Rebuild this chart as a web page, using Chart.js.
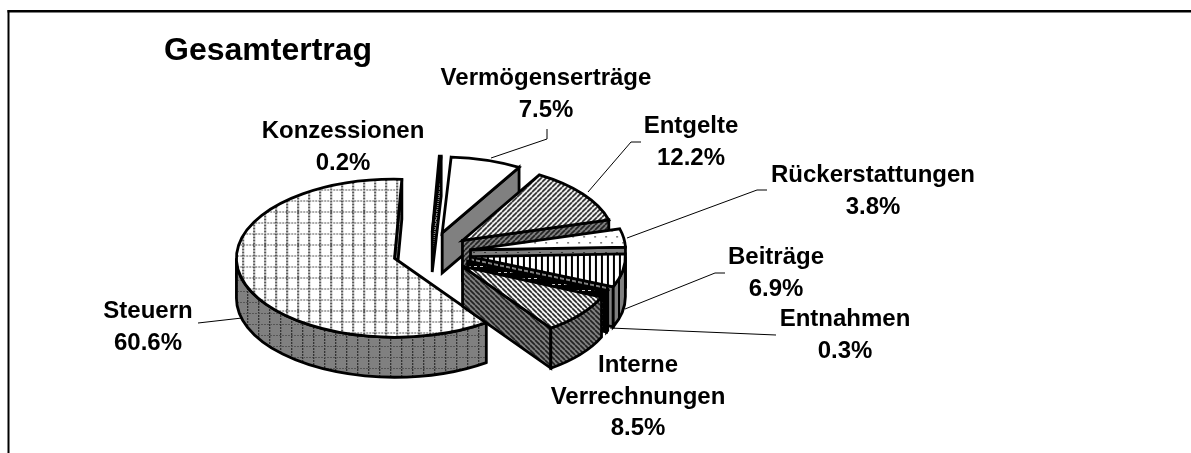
<!DOCTYPE html>
<html><head><meta charset="utf-8">
<style>html,body{margin:0;padding:0;background:#fff}canvas{display:block}</style>
<script src="https://cdn.jsdelivr.net/npm/chart.js@4"></script>
</head><body>
<div style="width:1191px;height:453px"><canvas id="c" width="1191" height="453"></canvas></div>
<script>
const chartTitle = 'Gesamtertrag';
const categories = ['Steuern','Konzessionen','Vermögenserträge','Entgelte','Rückerstattungen','Beiträge','Entnahmen','Interne Verrechnungen'];
const shares = [60.6,0.2,7.5,12.2,3.8,6.9,0.3,8.5];
const explosion = [37,42,42,41,41,41,41,42];
const radiusScale = [1.04,1,1,1,1.02,1.02,1,1];
const labelLines = [['Steuern'],['Konzessionen'],['Vermögenserträge'],['Entgelte'],['Rückerstattungen'],['Beiträge'],['Entnahmen'],['Interne','Verrechnungen']];
const labelCenterX = [148,343,546,691,873,776,845,638];
const labelBaseY = [318,138,85,133,182,264,326,372];
const leaders = [
  [[198,323],[242,318]],
  [],
  [[547,129],[547,139],[491,158]],
  [[641,142],[631,142],[588,192]],
  [[767,190],[757,190],[627,238]],
  [[725,273],[715,273],[625,309]],
  [[776,335],[610,328]],
  []
];
const TILT = 0.5, DEPTH = 40, CX = 430, CY = 253, RADIUS = 152, GREY = '#808080';

function tile(w,h,bg,paint){
  const c=document.createElement('canvas');c.width=w;c.height=h;
  const g=c.getContext('2d');g.fillStyle=bg;g.fillRect(0,0,w,h);paint(g);
  return document.createElement('canvas').getContext('2d').createPattern(c,'repeat');
}
const paints = [
  g=>{for(let i=0;i<33;i+=3){for(let k=0;k<33;k+=11){g.fillStyle='#333';g.fillRect(k+5,i,1,2);g.fillStyle='#666';g.fillRect(k+6,i,1,2);g.fillStyle='#555';g.fillRect(i,k+5,2,1);}}},
  g=>{g.fillStyle='#000';g.fillRect(0,0,3,1);g.fillRect(1,2,3,1);},
  g=>{},
  g=>{g.strokeStyle='#222';g.lineWidth=1.7;for(let i=-5;i<=10;i+=5){g.beginPath();g.moveTo(i,5);g.lineTo(i+5,0);g.stroke();}},
  g=>{g.fillStyle='#333';g.fillRect(0,0,2,1);g.fillRect(5,6,2,1);},
  g=>{g.fillStyle='#000';g.fillRect(0,0,2,6);},
  g=>{g.fillStyle='#000';g.fillRect(0,0,6,6);g.fillStyle='#ccc';g.fillRect(0,2,3,1);},
  g=>{g.strokeStyle='#222';g.lineWidth=1.7;for(let i=-5;i<=10;i+=5){g.beginPath();g.moveTo(i,0);g.lineTo(i+5,5);g.stroke();}}
];
const tileSize = [[33,33],[4,4],[4,4],[5,5],[11,12],[6,6],[6,6],[5,5]];
const topFill = paints.map((p,i)=>tile(tileSize[i][0],tileSize[i][1],'#fff',p));
const wallFill = paints.map((p,i)=>tile(tileSize[i][0],tileSize[i][1],i===6?'#000':GREY,p));
// the tops are painted through a squashed context, so undo the squash for the pattern
topFill.forEach((p,i)=>p.setTransform(new DOMMatrix().scale(1/radiusScale[i],1/(TILT*radiusScale[i]))));

function outline(ctx){ctx.strokeStyle='#000';ctx.lineWidth=2.8;ctx.lineJoin='miter';ctx.miterLimit=4;ctx.stroke();}

const pie3d = {
  id:'pie3d',
  beforeDraw(chart){
    const ctx=chart.ctx;ctx.save();
    ctx.fillStyle='#000';ctx.fillRect(7.5,10,1184,2.5);ctx.fillRect(7.5,10,2,443);
    ctx.restore();
  },
  beforeDatasetsDraw(chart){
    const ctx=chart.ctx, meta=chart.getDatasetMeta(0);
    meta.data.forEach((arc,i)=>{
      const mid=(arc.startAngle+arc.endAngle)/2, r=arc.outerRadius*radiusScale[i];
      const cx=CX+Math.cos(mid)*explosion[i], cy=CY+Math.sin(mid)*explosion[i]*TILT;
      const s=arc.startAngle, e=arc.endAngle;
      const pt=a=>[cx+r*Math.cos(a),cy+r*TILT*Math.sin(a)];
      const face=a=>{
        const p=pt(a);ctx.beginPath();ctx.moveTo(cx,cy);ctx.lineTo(p[0],p[1]);ctx.lineTo(p[0],p[1]+DEPTH);ctx.lineTo(cx,cy+DEPTH);ctx.closePath();
        ctx.fillStyle=wallFill[i];ctx.fill();outline(ctx);
      };
      if(Math.cos(s)<0) face(s);
      if(Math.cos(e)>0) face(e);
      for(const base of [-2*Math.PI,0,2*Math.PI]){
        const a0=Math.max(s,base), a1=Math.min(e,base+Math.PI);
        if(a1>a0){
          ctx.beginPath();ctx.ellipse(cx,cy,r,r*TILT,0,a0,a1);
          ctx.ellipse(cx,cy+DEPTH,r,r*TILT,0,a1,a0,true);ctx.closePath();
          ctx.fillStyle=wallFill[i];ctx.fill();outline(ctx);
        }
      }
      ctx.save();
      ctx.translate(cx,cy);ctx.scale(radiusScale[i],TILT*radiusScale[i]);ctx.translate(-arc.x,-arc.y);
      arc.draw(ctx);
      ctx.restore();
      ctx.beginPath();ctx.moveTo(cx,cy);ctx.ellipse(cx,cy,r,r*TILT,0,s,e);ctx.closePath();outline(ctx);
    });
    return false;
  },
  afterDraw(chart){
    const ctx=chart.ctx;
    ctx.save();
    ctx.strokeStyle='#000';ctx.lineWidth=1;
    leaders.forEach(l=>{if(!l.length)return;ctx.beginPath();l.forEach((p,j)=>j?ctx.lineTo(p[0],p[1]):ctx.moveTo(p[0],p[1]));ctx.stroke();});
    ctx.fillStyle='#000';ctx.textBaseline='alphabetic';
    ctx.font='bold 32px "Liberation Sans"';ctx.textAlign='left';ctx.fillText(chartTitle,164,60);
    ctx.font='bold 24px "Liberation Sans"';ctx.textAlign='center';
    categories.forEach((n,i)=>{
      const lines=labelLines[i].concat([shares[i].toFixed(1)+'%']);
      lines.forEach((t,j)=>ctx.fillText(t,labelCenterX[i],labelBaseY[i]+j*31.5));
    });
    ctx.restore();
  }
};

new Chart(document.getElementById('c'),{
  type:'pie',
  plugins:[pie3d],
  data:{labels:categories,datasets:[{data:shares,backgroundColor:topFill,borderWidth:0,radius:RADIUS,offset:0}]},
  options:{
    responsive:false,animation:false,events:[],rotation:144.5,
    layout:{padding:0},
    plugins:{legend:{display:false},tooltip:{enabled:false},title:{display:false}}
  }
});
</script>
</body></html>
